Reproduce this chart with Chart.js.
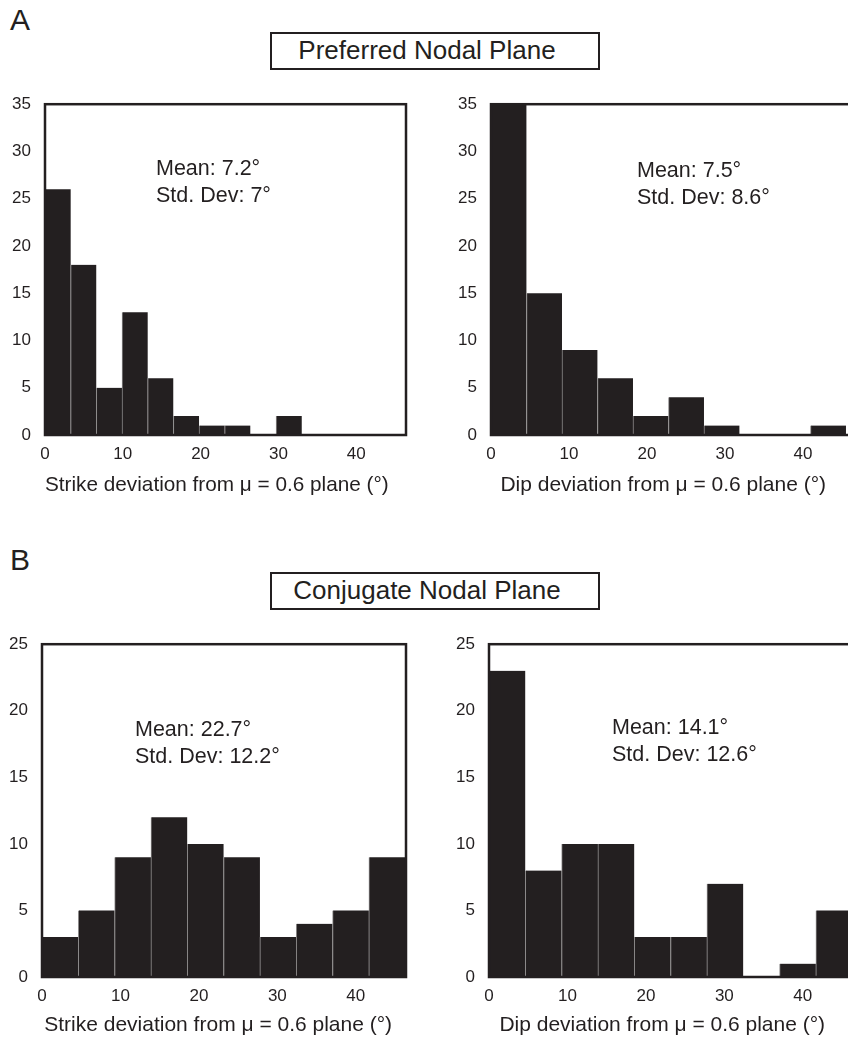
<!DOCTYPE html>
<html>
<head>
<meta charset="utf-8">
<script src="https://cdn.jsdelivr.net/npm/chart.js@4.4.1/dist/chart.umd.min.js"></script>
<style>
    html, body { margin: 0; padding: 0; background: #fff; }
    body {
        position: relative;
        width: 848px;
        height: 1046px;
        overflow: hidden;
        font-family: "Liberation Sans", Arial, Helvetica, sans-serif;
        color: #231f20;
    }
    canvas { position: absolute; }
    .panel-letter { position: absolute; left: 10px; font-size: 30px; line-height: 30px; }
    .title-box {
        position: absolute;
        left: 270px;
        width: 330px;
        height: 38px;
        box-sizing: border-box;
        border: 2.5px solid #231f20;
        font-size: 26px;
        line-height: 33px;
        text-align: center;
        padding-right: 16px;
        white-space: nowrap;
    }
    .stats { position: absolute; font-size: 21.5px; line-height: 27px; white-space: nowrap; }
</style>
</head>
<body>

<div class="panel-letter" style="top: 5px;">A</div>
<div class="title-box" style="top: 32px;">Preferred Nodal Plane</div>
<div class="panel-letter" style="top: 545px;">B</div>
<div class="title-box" style="top: 572px;">Conjugate Nodal Plane</div>

<canvas id="strike-preferred" width="420" height="420" style="left: 0; top: 80px;"></canvas>
<canvas id="dip-preferred" width="420" height="420" style="left: 440px; top: 80px;"></canvas>
<canvas id="strike-conjugate" width="420" height="420" style="left: 0; top: 620px;"></canvas>
<canvas id="dip-conjugate" width="420" height="420" style="left: 440px; top: 620px;"></canvas>

<div class="stats" style="left: 156px; top: 155px;">Mean: 7.2°<br>Std. Dev: 7°</div>
<div class="stats" style="left: 637px; top: 157px;">Mean: 7.5°<br>Std. Dev: 8.6°</div>
<div class="stats" style="left: 135px; top: 716px;">Mean: 22.7°<br>Std. Dev: 12.2°</div>
<div class="stats" style="left: 612px; top: 714px;">Mean: 14.1°<br>Std. Dev: 12.6°</div>

<script>
// Histogram counts per bin
const strikePreferred = [26, 18, 5, 13, 6, 2, 1, 1, 0, 2, 0, 0, 0, 0];
const dipPreferred = [35, 15, 9, 6, 2, 4, 1, 0, 0, 1];
const strikeConjugate = [3, 5, 9, 12, 10, 9, 3, 4, 5, 9];
const dipConjugate = [23, 8, 10, 10, 3, 3, 7, 0, 1, 5];

// Bin widths in degrees
const strikePreferredBin = 3.3;
const dipPreferredBin = 4.55;
const strikeConjugateBin = 4.63;
const dipConjugateBin = 4.63;

// Axis ticks
const xTickValues = [0, 10, 20, 30, 40];
const yTicksPreferred = [0, 5, 10, 15, 20, 25, 30, 35];
const yTicksConjugate = [0, 5, 10, 15, 20, 25];
const xMax = 46.4;

const strikeTitle = 'Strike deviation from μ = 0.6 plane (°)';
const dipTitle = 'Dip deviation from μ = 0.6 plane (°)';

const INK = '#231f20';

Chart.defaults.font.family = '"Liberation Sans", Arial, Helvetica, sans-serif';
Chart.defaults.color = INK;

// Box around the plot area, drawn over the bars
const framePlugin = {
    id: 'frame',
    afterDatasetsDraw(chart) {
        const { ctx, chartArea: { left, top, right, bottom } } = chart;
        ctx.save();
        ctx.strokeStyle = INK;
        ctx.lineWidth = 2.5;
        ctx.strokeRect(left, top, right - left, bottom - top);
        ctx.restore();
    }
};

function makeHistogram(id, counts, binWidth, yTicks, title, box) {
    const points = counts.map((count, i) => ({ x: (i + 0.5) * binWidth, y: count }));

    return new Chart(document.getElementById(id), {
        type: 'bar',
        data: {
            datasets: [{
                data: points,
                backgroundColor: INK,
                borderColor: '#8d8b8b',
                borderWidth: { left: 1, top: 0, right: 0, bottom: 0 },
                borderSkipped: false,
                barPercentage: 1,
                categoryPercentage: 1
            }]
        },
        options: {
            responsive: false,
            animation: false,
            devicePixelRatio: 1,
            events: [],
            layout: { padding: { top: box.top, right: box.right, left: 0, bottom: 0 } },
            plugins: {
                legend: { display: false },
                tooltip: { enabled: false }
            },
            scales: {
                x: {
                    type: 'linear',
                    min: 0,
                    max: xMax,
                    offset: false,
                    grid: { display: false, drawTicks: false },
                    border: { display: false },
                    afterBuildTicks: scale => { scale.ticks = xTickValues.map(v => ({ value: v })); },
                    afterFit: scale => { scale.height = box.xHeight; },
                    ticks: {
                        padding: 9,
                        maxRotation: 0,
                        autoSkip: false,
                        font: { size: 17 }
                    },
                    title: {
                        display: true,
                        text: title,
                        font: { size: 21 },
                        padding: { top: 0, bottom: 2 }
                    }
                },
                y: {
                    min: 0,
                    max: yTicks[yTicks.length - 1],
                    grid: { display: false, drawTicks: false },
                    border: { display: false },
                    afterBuildTicks: scale => { scale.ticks = yTicks.map(v => ({ value: v })); },
                    afterFit: scale => { scale.width = box.yWidth; },
                    ticks: {
                        padding: 14,
                        font: { size: 17 }
                    }
                }
            }
        },
        plugins: [framePlugin]
    });
}

// trailing spaces nudge the centred axis titles left, as in the figure
makeHistogram('strike-preferred', strikePreferred, strikePreferredBin, yTicksPreferred,
    strikeTitle + '   ', { top: 13, right: 14, yWidth: 45, xHeight: 65 });
makeHistogram('dip-preferred', dipPreferred, dipPreferredBin, yTicksPreferred,
    dipTitle + '   ', { top: 13, right: 7, yWidth: 51, xHeight: 65 });
makeHistogram('strike-conjugate', strikeConjugate, strikeConjugateBin, yTicksConjugate,
    strikeTitle + '  ', { top: 14, right: 14, yWidth: 42, xHeight: 63 });
makeHistogram('dip-conjugate', dipConjugate, dipConjugateBin, yTicksConjugate,
    dipTitle + '   ', { top: 14, right: 7, yWidth: 49, xHeight: 63 });
</script>
</body>
</html>
